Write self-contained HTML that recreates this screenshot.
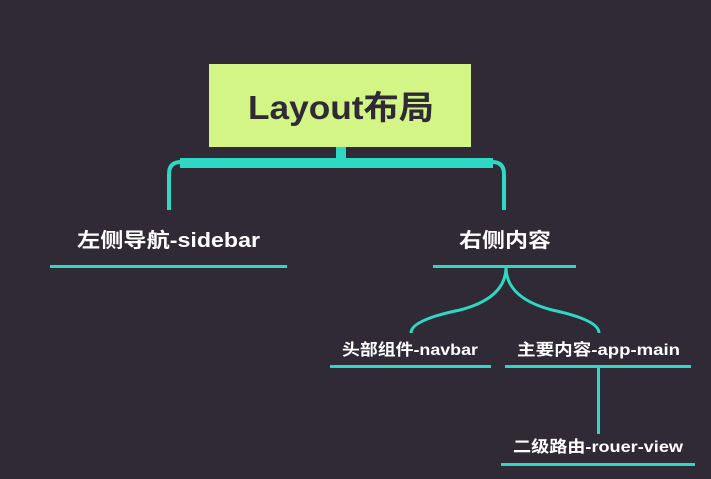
<!DOCTYPE html>
<html><head><meta charset="utf-8"><style>
body{margin:0;width:711px;height:479px;background:#2f2a35;overflow:hidden}
svg{display:block}
text{font-family:"Liberation Sans","Noto Sans CJK SC",sans-serif;font-weight:bold}
</style></head><body>
<svg width="711" height="479" viewBox="0 0 711 479">
<rect x="209" y="64" width="262" height="83" fill="#d2f585"/>
<text x="248" y="119" font-size="33" fill="#2f2a35" textLength="186" lengthAdjust="spacingAndGlyphs">Layout布局</text>
<g fill="none" stroke="#2ed8c3" stroke-linecap="butt">
<line x1="341" y1="147" x2="341" y2="160" stroke-width="10"/>
<path d="M169 210 V174 Q169 162 181 162 H492 Q504 162 504 174 V210" stroke-width="4"/>
<line x1="180" y1="163" x2="493" y2="163" stroke-width="10"/>
<line x1="50" y1="266.5" x2="287" y2="266.5" stroke-width="3"/>
<line x1="433" y1="266.5" x2="576" y2="266.5" stroke-width="3"/>
<path d="M506 267 Q506 298 460 310 Q411 320 411 333" stroke-width="3"/>
<path d="M506 267 Q506 298 552 310 Q599 320 599 333" stroke-width="3"/>
<line x1="330" y1="366.5" x2="491" y2="366.5" stroke-width="3"/>
<line x1="505" y1="366.5" x2="691" y2="366.5" stroke-width="3"/>
<line x1="598.5" y1="367" x2="598.5" y2="434" stroke-width="3"/>
<line x1="501" y1="464.5" x2="695" y2="464.5" stroke-width="3"/>
</g>
<text x="77" y="247" font-size="20" fill="#fff" textLength="183" lengthAdjust="spacingAndGlyphs">左侧导航-sidebar</text>
<text x="459" y="247" font-size="20" fill="#fff" textLength="92" lengthAdjust="spacingAndGlyphs">右侧内容</text>
<text x="342" y="355" font-size="16" fill="#fff" textLength="136" lengthAdjust="spacingAndGlyphs">头部组件-navbar</text>
<text x="517" y="355" font-size="16" fill="#fff" textLength="163" lengthAdjust="spacingAndGlyphs">主要内容-app-main</text>
<text x="513" y="452" font-size="16" fill="#fff" textLength="170" lengthAdjust="spacingAndGlyphs">二级路由-rouer-view</text>
</svg>
</body></html>
